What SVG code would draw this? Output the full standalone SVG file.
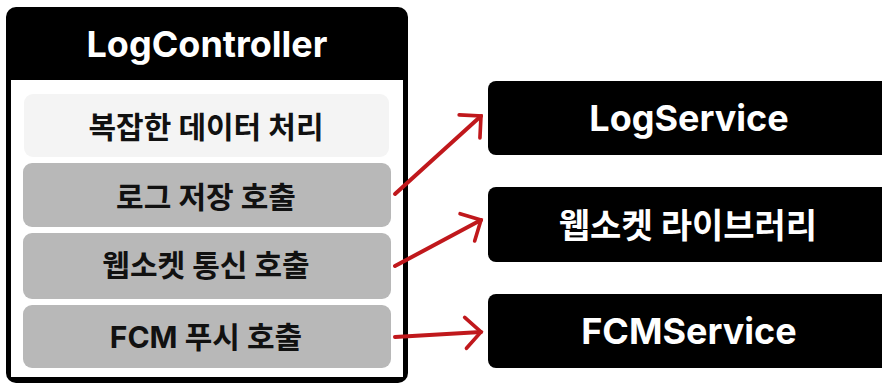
<svg xmlns="http://www.w3.org/2000/svg" width="882" height="383" viewBox="0 0 882 383">
<style>
.t{font-family:Inter,"Noto Sans CJK KR",sans-serif;font-weight:700;text-anchor:middle;dominant-baseline:central}
.w{fill:#fff}
.k{fill:#111}
.row{fill:#b8b8b8}
.svc{fill:#000}
.arr{fill:none;stroke:#c0181c;stroke-width:4;stroke-linecap:round;marker-end:url(#ah)}
</style>
<defs>
<marker id="ah" markerUnits="userSpaceOnUse" markerWidth="40" markerHeight="40" viewBox="-22 -22 26 44" refX="0" refY="0" orient="auto">
<path d="M-17,-17 L0,0 L-17,17" fill="none" stroke="#c0181c" stroke-width="4" stroke-linecap="round" stroke-linejoin="miter"/>
</marker>
</defs>
<g id="LogController">
<rect x="6" y="7" width="402" height="376" rx="10" fill="#000"/>
<rect x="11" y="80" width="392" height="297" fill="#fff"/>
<text class="t w" x="207" y="44" font-size="36">LogController</text>
</g>
<g id="row1">
<rect x="24" y="94" width="365" height="63" rx="9" fill="#f4f4f4"/>
<text class="t k" x="206" y="127" font-size="30">복잡한 데이터 처리</text>
</g>
<g id="row2">
<rect class="row" x="23" y="163" width="368" height="64" rx="9"/>
<text class="t k" x="206" y="197" font-size="30">로그 저장 호출</text>
</g>
<g id="row3">
<rect class="row" x="23" y="233" width="368" height="66" rx="9"/>
<text class="t k" x="206" y="265" font-size="30">웹소켓 통신 호출</text>
</g>
<g id="row4">
<rect class="row" x="23" y="305" width="368" height="63" rx="9"/>
<text class="t k" x="206" y="337" font-size="30">FCM 푸시 호출</text>
</g>
<g id="LogService">
<rect class="svc" x="488" y="81" width="402" height="74" rx="8"/>
<text class="t w" x="689" y="118" font-size="36">LogService</text>
</g>
<g id="WebSocketLib">
<rect class="svc" x="488" y="187" width="402" height="75" rx="8"/>
<text class="t w" x="688" y="225" font-size="34">웹소켓 라이브러리</text>
</g>
<g id="FCMService">
<rect class="svc" x="488" y="294" width="402" height="74" rx="8"/>
<text class="t w" x="689" y="331" font-size="36">FCMService</text>
</g>
<g id="connectors">
<line class="arr" x1="395" y1="194" x2="481" y2="116"/>
<line class="arr" x1="395" y1="266" x2="481" y2="220"/>
<line class="arr" x1="395" y1="337" x2="481" y2="332"/>
</g>
</svg>
